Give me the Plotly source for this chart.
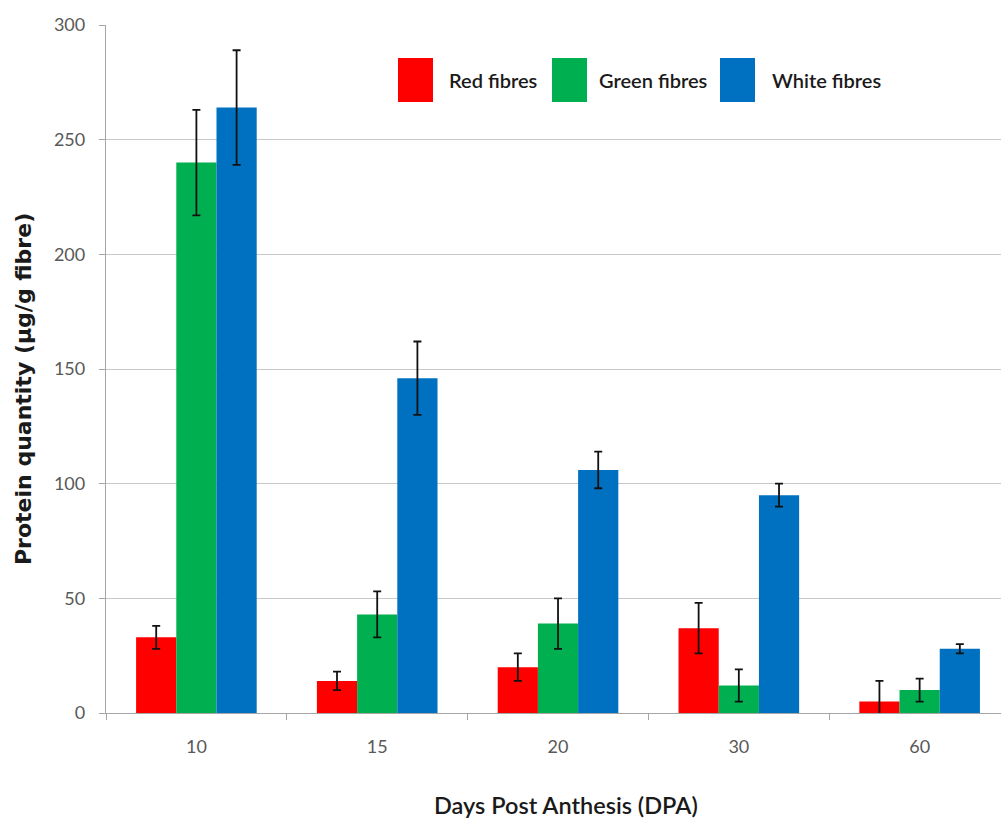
import plotly.graph_objects as go

# Days post anthesis (categories)
dpa = ["10", "15", "20", "30", "60"]

# Protein quantity (µg/g fibre) and standard errors per fibre colour
red_vals = [33, 14, 20, 37, 5]
red_err = [5, 4, 6, 11, 9]
green_vals = [240, 43, 39, 12, 10]
green_err = [23, 10, 11, 7, 5]
white_vals = [264, 146, 106, 95, 28]
white_err = [25, 16, 8, 5, 2]

series_names = ["Red fibres", "Green fibres", "White fibres"]
series_colors = ["#FF0000", "#00B050", "#0070C0"]

y_ticks = [0, 50, 100, 150, 200, 250, 300]

FONT = "Lato"

fig = go.Figure()
for name, vals, errs, col in zip(series_names,
                                 [red_vals, green_vals, white_vals],
                                 [red_err, green_err, white_err],
                                 series_colors):
    fig.add_trace(go.Bar(
        x=dpa, y=vals, name=name,
        marker=dict(color=col, line=dict(width=0)),
        error_y=dict(type="data", array=errs, visible=True,
                     color="#111111", thickness=1.8, width=4),
        showlegend=False,
    ))

# Page geometry (px) used to place the legend and the axis titles
W, H = 1001, 819
L, R, T, B = 106, 0, 25, 106
swatch_x = [398, 552, 720]
label_x = [447, 597, 770]


def px_x(p):
    return (p - L) / (W - L - R)


def px_y(p):
    return (H - B - p) / (H - B - T)


# Custom legend: tall colour swatches with labels
for name, col, sx, tx in zip(series_names, series_colors, swatch_x, label_x):
    fig.add_shape(type="rect", xref="paper", yref="paper",
                  x0=px_x(sx), x1=px_x(sx + 35),
                  y0=px_y(102), y1=px_y(58),
                  fillcolor=col, line=dict(width=0), layer="above")
    fig.add_annotation(xref="paper", yref="paper",
                       x=px_x(tx), y=px_y(80),
                       xanchor="left", yanchor="middle", showarrow=False,
                       text=name,
                       font=dict(family=FONT, size=20, color="#1a1a1a", weight=600))

# Axis titles
fig.add_annotation(xref="paper", yref="paper",
                   x=px_x(23), y=px_y(389),
                   xanchor="center", yanchor="middle", showarrow=False,
                   textangle=-90, text="Protein quantity (μg/g fibre)",
                   font=dict(family="DejaVu Sans", size=22, color="#1a1a1a", weight=700))
fig.add_annotation(xref="paper", yref="paper",
                   x=px_x(566), y=px_y(805),
                   xanchor="center", yanchor="middle", showarrow=False,
                   text="Days Post Anthesis (DPA)",
                   font=dict(family=FONT, size=23.5, color="#1a1a1a", weight=600))

fig.update_layout(
    width=W, height=H,
    margin=dict(l=L, r=R, t=T, b=B),
    paper_bgcolor="white", plot_bgcolor="white",
    barmode="group", bargap=0.333, bargroupgap=0,
    font=dict(family=FONT, color="#595959"),
)

fig.update_xaxes(
    type="category", range=[-0.5, 4.45],
    showline=True, linecolor="#A6A6A6", linewidth=1.3,
    ticks="outside", tickson="boundaries", ticklen=6, tickcolor="#A6A6A6",
    tickfont=dict(family=FONT, size=18, color="#595959"),
    ticklabelstandoff=17,
    showgrid=False,
)

fig.update_yaxes(
    range=[0, 300], tickvals=y_ticks,
    showline=True, linecolor="#A6A6A6", linewidth=1.3,
    ticks="outside", ticklen=6, tickcolor="#A6A6A6",
    tickfont=dict(family=FONT, size=18, color="#595959"),
    ticklabelstandoff=10,
    showgrid=True, gridcolor="#C8C8C8", gridwidth=1.3,
    zeroline=False,
)

fig.write_html("out.html")
